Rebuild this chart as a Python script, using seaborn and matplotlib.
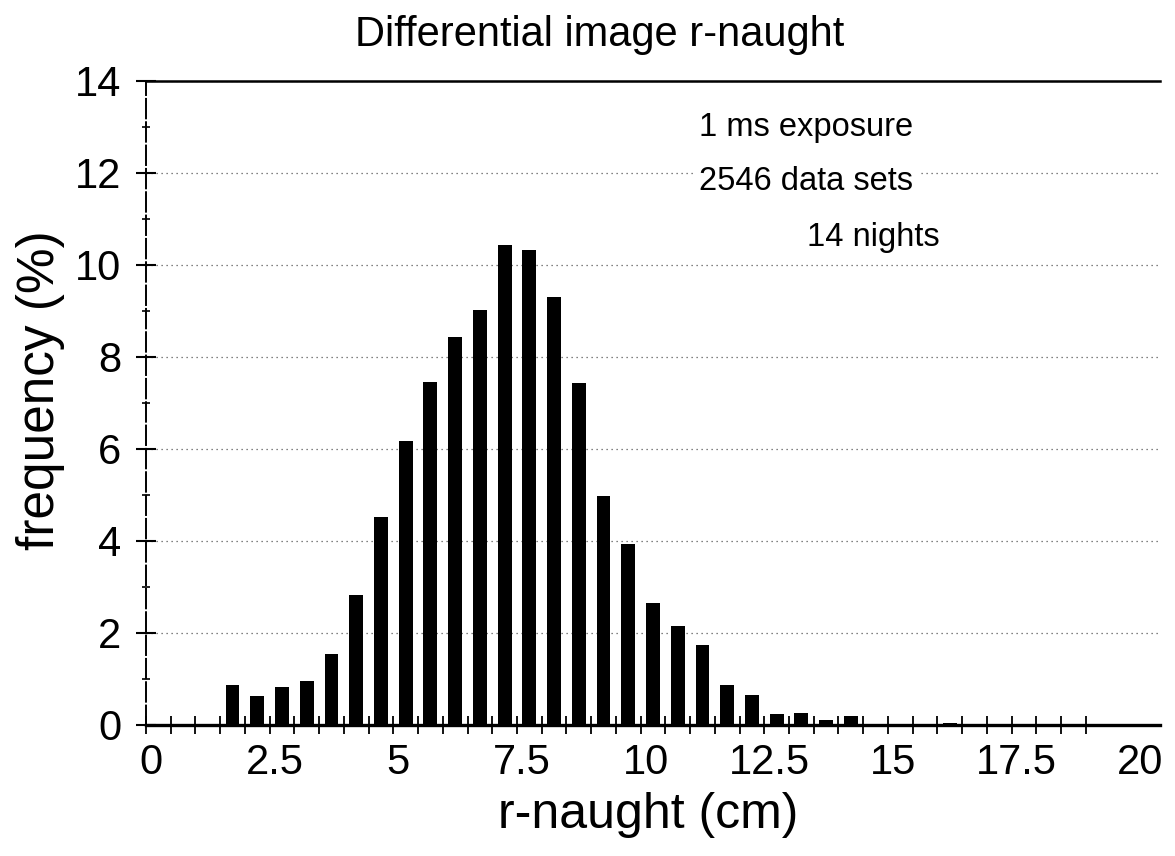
import matplotlib
matplotlib.use("Agg")
import matplotlib.pyplot as plt
import matplotlib.transforms as mtransforms
import seaborn as sns
import pandas as pd
import numpy as np
from matplotlib.ticker import FixedLocator, MultipleLocator

# ---- data ----
bin_centers = [1.75, 2.25, 2.75, 3.25, 3.75, 4.25, 4.75, 5.25, 5.75, 6.25,
               6.75, 7.25, 7.75, 8.25, 8.75, 9.25, 9.75, 10.25, 10.75, 11.25,
               11.75, 12.25, 12.75, 13.25, 13.75, 14.25, 14.75, 16.25]
frequency = [0.86, 0.63, 0.82, 0.96, 1.54, 2.82, 4.51, 6.18, 7.46, 8.43,
             9.01, 10.43, 10.33, 9.29, 7.43, 4.97, 3.93, 2.65, 2.16, 1.73,
             0.88, 0.65, 0.23, 0.26, 0.10, 0.19, 0.03, 0.04]
x_tick_values = [0, 2.5, 5, 7.5, 10, 12.5, 15, 17.5, 20]
x_tick_labels = ["0", "2.5", "5", "7.5", "10", "12.5", "15", "17.5", "20"]
y_tick_values = [0, 2, 4, 6, 8, 10, 12, 14]
notes = ["1 ms exposure", "2546 data sets", "14 nights"]
note_x = [13.35, 13.35, 14.7]
note_y = [12.98, 11.8, 10.6]

sns.set_style("white")
plt.rcParams["font.family"] = ["Liberation Sans", "DejaVu Sans"]
plt.rcParams["text.color"] = "black"
plt.rcParams["axes.labelcolor"] = "black"
plt.rcParams["xtick.color"] = "black"
plt.rcParams["ytick.color"] = "black"

df = pd.DataFrame({"r": bin_centers, "freq": frequency})

fig = plt.figure(figsize=(11.75, 8.56), dpi=100)
ax = fig.add_axes([146 / 1175, 1 - 725 / 856, (1160 - 146) / 1175, (725 - 80.7) / 856])

sns.barplot(data=df, x="r", y="freq", native_scale=True, width=0.56,
            color="black", saturation=1, errorbar=None, edgecolor="black",
            linewidth=0, ax=ax, zorder=3)

ax.set_xlim(0, 20.5)
ax.set_ylim(0, 14)

# ticks
ax.xaxis.set_major_locator(FixedLocator(x_tick_values))
ax.set_xticklabels(x_tick_labels)
ax.xaxis.set_minor_locator(FixedLocator(list(np.arange(0, 19.01, 0.5))))
ax.xaxis.remove_overlapping_locs = False
ax.tick_params(axis="x", which="major", length=0, pad=13, labelsize=30,
               labelcolor="black")
ax.tick_params(axis="x", which="minor", direction="inout", length=13,
               width=1.3, color="black", bottom=True)

ax.yaxis.set_major_locator(FixedLocator(y_tick_values))
ax.set_yticklabels([str(v) for v in y_tick_values])
ax.yaxis.set_minor_locator(MultipleLocator(1))
ax.tick_params(axis="y", which="major", direction="inout", length=14,
               width=1.5, pad=11, labelsize=30, left=True, color="black",
               labelcolor="black")
ax.tick_params(axis="y", which="minor", direction="inout", length=6,
               width=1.2, left=True, color="black")

# shift x tick labels slightly right, as in the reference
shift = mtransforms.ScaledTranslation(5 / 100, 0, fig.dpi_scale_trans)
for lab in ax.get_xticklabels():
    lab.set_transform(lab.get_transform() + shift)

# grid
ax.set_axisbelow(True)
ax.yaxis.grid(True, which="major", linestyle=(0, (1, 3)), color="0.35",
              linewidth=0.9)
ax.xaxis.grid(False)

# spines
for s in ["top", "bottom", "left"]:
    ax.spines[s].set_visible(True)
    ax.spines[s].set_color("black")
ax.spines["right"].set_visible(False)
ax.spines["top"].set_linewidth(1.8)
ax.spines["bottom"].set_linewidth(2.4)
ax.spines["left"].set_linewidth(1.4)
ax.spines["left"].set_linestyle((0, (10, 2)))

# labels
fig.text(600 / 1175, 1 - 35 / 856, "Differential image r-naught",
         fontsize=30, ha="center", va="center", color="black")
ax.set_xlabel("r-naught (cm)", fontsize=36, color="black")
ax.set_ylabel("frequency (%)", fontsize=37, color="black")
ax.xaxis.set_label_coords(0.495, -0.14)
ax.xaxis.label.set_va("center")
ax.yaxis.set_label_coords(-0.104, 0.52)
ax.yaxis.label.set_va("center")

for t, xx, yy in zip(notes, note_x, note_y):
    ax.text(xx, yy, t, fontsize=23.5, ha="center", va="center", zorder=4,
            color="black",
            bbox=dict(facecolor="white", edgecolor="none", pad=3))

fig.savefig("out.png", dpi=100)
